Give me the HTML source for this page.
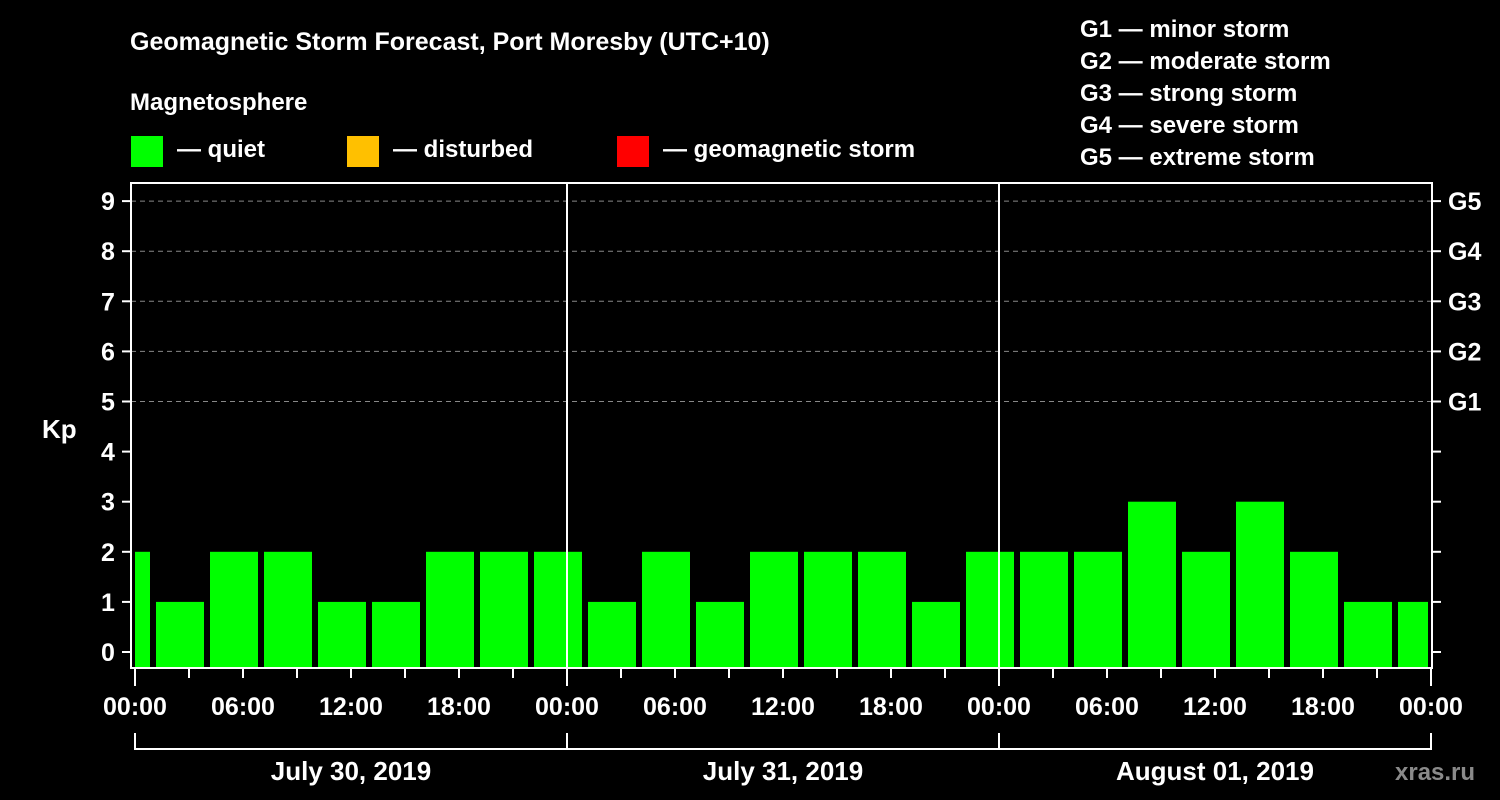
<!DOCTYPE html>
<html><head><meta charset="utf-8"><style>
body{margin:0;background:#000;width:1500px;height:800px;overflow:hidden}
svg{display:block}
text{font-family:"Liberation Sans",Arial,sans-serif;font-weight:bold;fill:#fff}
</style></head><body>
<svg id="chart" width="1500" height="800" viewBox="0 0 1500 800">
<text x="130" y="50" font-size="25">Geomagnetic Storm Forecast, Port Moresby (UTC+10)</text>
<text x="130" y="110" font-size="24">Magnetosphere</text>
<g><rect x="131" y="136" width="32" height="31" fill="#00ff00"/><text x="177" y="157" font-size="24">— quiet</text></g>
<g><rect x="347" y="136" width="32" height="31" fill="#ffc000"/><text x="393" y="157" font-size="24">— disturbed</text></g>
<g><rect x="617" y="136" width="32" height="31" fill="#ff0000"/><text x="663" y="157" font-size="24">— geomagnetic storm</text></g>
<g font-size="24">
<text x="1080" y="37">G1 — minor storm</text>
<text x="1080" y="69">G2 — moderate storm</text>
<text x="1080" y="101">G3 — strong storm</text>
<text x="1080" y="133">G4 — severe storm</text>
<text x="1080" y="165">G5 — extreme storm</text>
</g>
<text x="42" y="438" font-size="26">Kp</text>
<g id="grid"></g><g id="bars"></g><g id="axes"></g>
<text x="1395" y="780" font-size="24" fill="#888" style="fill:#8a8a8a">xras.ru</text>
</svg>
<script>
const kpValues=[2,1,2,2,1,1,2,2,2,1,2,1,2,2,2,1,2,2,2,3,2,3,2,1,1];
const barStartHour=-0.5;
const dayLabels=["July 30, 2019","July 31, 2019","August 01, 2019"];
const timeLabels=["00:00","06:00","12:00","18:00"];
const gLabels=["G1","G2","G3","G4","G5"];
const NS="http://www.w3.org/2000/svg";
const X=h=>135+h*18, Y=k=>652-k*50.1;
function mk(t,a,p){const e=document.createElementNS(NS,t);for(const k in a)e.setAttribute(k,a[k]);p.appendChild(e);return e;}
const grid=document.getElementById('grid'),bars=document.getElementById('bars'),axes=document.getElementById('axes');
for(let k=5;k<=9;k++){const l=mk('line',{x1:131,x2:1432,y1:Y(k),y2:Y(k),stroke:'#888','stroke-width':1,'stroke-dasharray':'5,4'},grid);

}
kpValues.forEach((v,i)=>{const c=barStartHour+3*i;let x0=X(c)-24,x1=X(c)+24;x0=Math.max(x0,X(0));x1=Math.min(x1,X(72)-3);
const r=mk('rect',{x:x0,y:Y(v),width:x1-x0,height:667-Y(v),fill:v>=5?'#ff0000':v>=4?'#ffc000':'#00ff00'},bars);

});
mk('rect',{x:131,y:183,width:1301,height:485,fill:'none',stroke:'#fff','stroke-width':2},axes);
for(let d=1;d<3;d++){mk('line',{x1:X(24*d),x2:X(24*d),y1:183,y2:668,stroke:'#fff','stroke-width':2},axes);}
for(let k=0;k<=9;k++){mk('line',{x1:122,x2:131,y1:Y(k),y2:Y(k),stroke:'#fff','stroke-width':2},axes);
mk('line',{x1:1432,x2:1441,y1:Y(k),y2:Y(k),stroke:'#fff','stroke-width':2},axes);
const t=mk('text',{x:108,y:Y(k)+9,'font-size':25,'text-anchor':'middle'},axes);t.textContent=k;

}
gLabels.forEach((g,i)=>{const t=mk('text',{x:1448,y:Y(5+i)+9,'font-size':25},axes);t.textContent=g;

});
for(let h=0;h<=72;h+=3){const major=h%24===0;mk('line',{x1:X(h),x2:X(h),y1:668,y2:major?686:678,stroke:'#fff','stroke-width':2},axes);
if(h%6===0){const t=mk('text',{x:X(h),y:715,'font-size':25,'text-anchor':'middle'},axes);t.textContent=timeLabels[(h%24)/6];

}}
dayLabels.forEach((d,i)=>{mk('polyline',{points:`${X(24*i)},733 ${X(24*i)},749 ${X(24*i+24)},749 ${X(24*i+24)},733`,fill:'none',stroke:'#fff','stroke-width':2},axes);
const t=mk('text',{x:X(24*i+12),y:780,'font-size':26,'text-anchor':'middle'},axes);t.textContent=d;

});
</script>
</body></html>
